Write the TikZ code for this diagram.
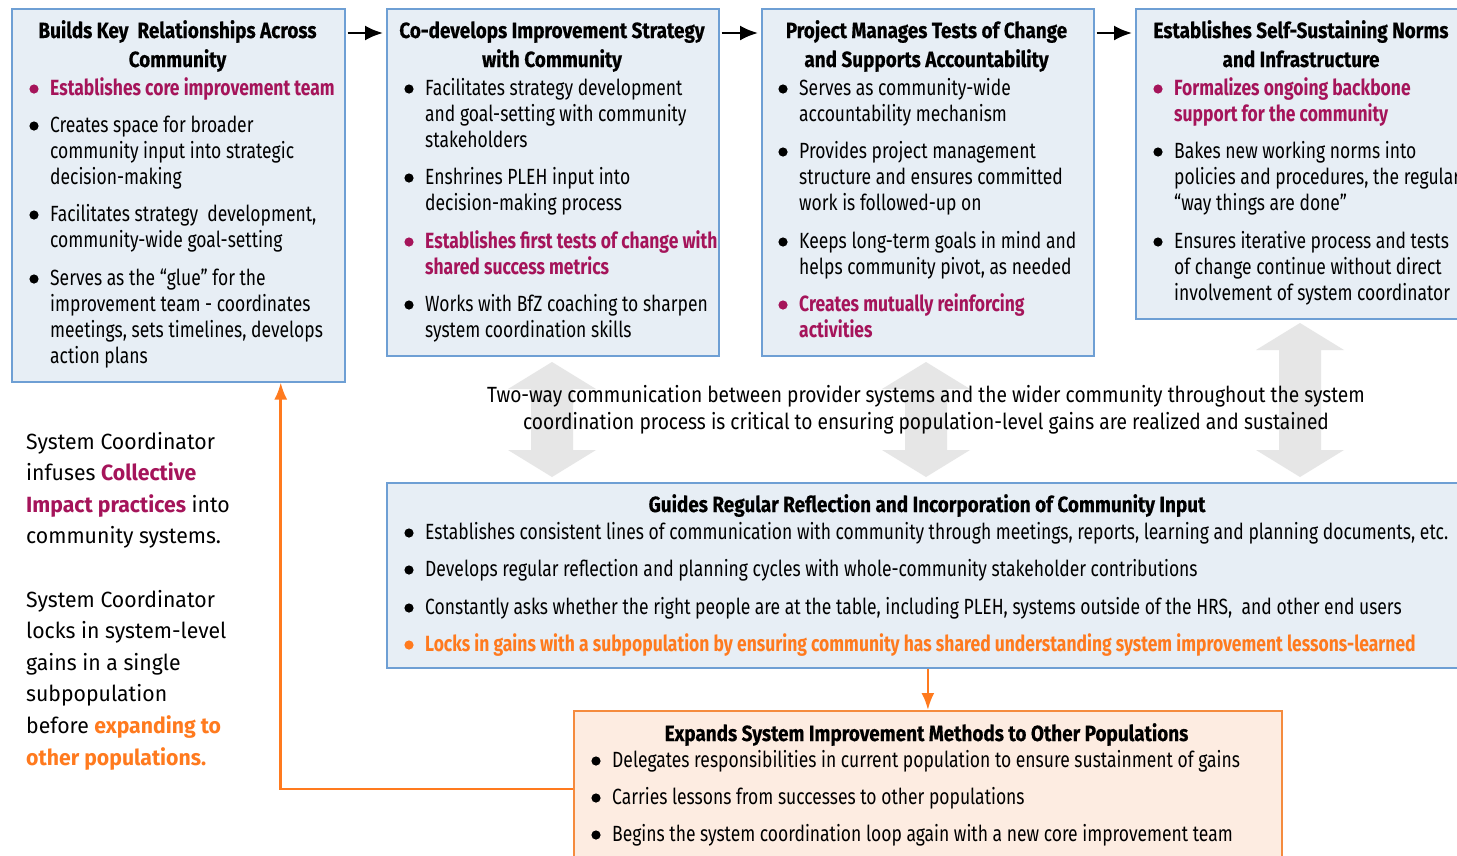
\documentclass[tikz,border=0pt]{standalone}
\usepackage{fontspec}
\setmainfont{Fira Sans}[FakeStretch=0.795]
\newfontfamily\widefont{Fira Sans}[FakeStretch=0.965]
\newfontfamily\midfont{Fira Sans}[FakeStretch=0.872]
\newfontfamily\headfont{Fira Sans}[FakeStretch=0.86, FakeBold=0.4]
\usetikzlibrary{arrows.meta}

\definecolor{panelfill}{HTML}{E7EEF5}
\definecolor{panelline}{HTML}{6E9FD4}
\definecolor{peachfill}{HTML}{FDECE1}
\definecolor{peachline}{HTML}{F58B3E}
\definecolor{berry}{HTML}{A5145A}
\definecolor{accent}{HTML}{FF7A1E}
\definecolor{arrowgray}{HTML}{E6E6E6}

% stacked lines, baseline at the first line
\newcommand\lns[1]{\begin{tabular}[t]{@{}l@{}}#1\end{tabular}}
\newcommand\clns[1]{\begin{tabular}[t]{@{}c@{}}#1\end{tabular}}

\tikzset{
  panel/.style={draw=panelline, fill=panelfill, line width=1.5pt, anchor=north west, inner sep=0pt},
  peach/.style={draw=peachline, fill=peachfill, line width=1.8pt, anchor=north west, inner sep=0pt},
  body/.style={inner sep=0pt, anchor=base west, font=\fontsize{22}{26.3}\selectfont},
  hd/.style={inner sep=0pt, anchor=base, font=\headfont\fontsize{22}{29}\selectfont\bfseries},
  side/.style={inner sep=0pt, anchor=base west, font=\widefont\fontsize{22}{31.6}\selectfont},
  flow/.style={-{Latex[length=18pt,width=15pt]}, line width=2.4pt, shorten <=2pt, shorten >=3pt},
  loopline/.style={draw=accent, line width=2.6pt, -{Latex[length=17pt,width=13pt]}},
}

% bullet item: name, x, baseline y, colour, font switch, lines
\newcommand\bitem[6]{%
  \fill[#4] (#2-16,#3-6) circle (4.6);
  \node[body, text=#4] (#1) at (#2,#3) {#5\lns{#6}};}

% vertical two-headed block arrow: centre x, top y, bottom y
\newcommand\twoway[3]{%
  \fill[arrowgray] (#1,#2) -- (#1+44,#2+27) -- (#1+21,#2+27) -- (#1+21,#3-27)
    -- (#1+44,#3-27) -- (#1,#3) -- (#1-44,#3-27) -- (#1-21,#3-27)
    -- (#1-21,#2+27) -- (#1-44,#2+27) -- cycle;}

\begin{document}
\begin{tikzpicture}[x=1pt,y=-1pt]
\useasboundingbox (0,0) rectangle (1457,855);
\fill[white] (0,0) rectangle (1457,855);
\clip (0,0) rectangle (1457,855);

% block arrows behind the central statement
\twoway{552}{362}{477}
\twoway{926}{362}{477}
\twoway{1300}{323}{477}

% top row of stages
\node[panel, minimum width=333, minimum height=373] (p1) at (11,8) {};
\node[panel, minimum width=332, minimum height=347] (p2) at (386,8) {};
\node[panel, minimum width=332, minimum height=347] (p3) at (761,8) {};
\node[panel, minimum width=345, minimum height=310] (p4) at (1135,8) {};

% reflection panel and expansion panel
\node[panel, minimum width=1100, minimum height=185] (p5) at (386,482) {};
\node[peach, minimum width=708, minimum height=170] (p6) at (573,710) {};

% stage headings
\node[hd] (h1) at (177.5,38) {\clns{Builds Key\ \ Relationships Across\\Community}};
\node[hd] (h2) at (552,38) {\clns{Co-develops Improvement Strategy\\with Community}};
\node[hd] (h3) at (926.5,38) {\clns{Project Manages Tests of Change\\and Supports Accountability}};
\node[hd] (h4) at (1301,38) {\clns{Establishes Self-Sustaining Norms\\and Infrastructure}};
\node[hd] (h5) at (927,512) {Guides Regular Reflection and Incorporation of Community Input};
\node[hd] (h6) at (926.5,741) {Expands System Improvement Methods to Other Populations};

% stage 1
\bitem{a1}{50}{95}{berry}{\bfseries}{Establishes core improvement team}
\bitem{a2}{50}{132}{black}{}{Creates space for broader\\community input into strategic\\decision-making}
\bitem{a3}{50}{221}{black}{}{Facilitates strategy\ \ development,\\community-wide goal-setting}
\bitem{a4}{50}{285}{black}{}{Serves as the “glue” for the\\improvement team - coordinates\\meetings, sets timelines, develops\\action plans}

% stage 2
\bitem{b1}{425}{95}{black}{}{Facilitates strategy development\\and goal-setting with community\\stakeholders}
\bitem{b2}{425}{184}{black}{}{Enshrines PLEH input into\\decision-making process}
\bitem{b3}{425}{248}{berry}{\bfseries}{Establishes first tests of change with\\shared success metrics}
\bitem{b4}{425}{311}{black}{}{Works with BfZ coaching to sharpen\\system coordination skills}

% stage 3
\bitem{c1}{799}{95}{black}{}{Serves as community-wide\\accountability mechanism}
\bitem{c2}{799}{158}{black}{}{Provides project management\\structure and ensures committed\\work is followed-up on}
\bitem{c3}{799}{248}{black}{}{Keeps long-term goals in mind and\\helps community pivot, as needed}
\bitem{c4}{799}{311}{berry}{\bfseries}{Creates mutually reinforcing\\activities}

% stage 4
\bitem{d1}{1174}{95}{berry}{\bfseries}{Formalizes ongoing backbone\\support for the community}
\bitem{d2}{1174}{158}{black}{}{Bakes new working norms into\\policies and procedures, the regular\\“way things are done”}
\bitem{d3}{1174}{248}{black}{}{Ensures iterative process and tests\\of change continue without direct\\involvement of system coordinator}

% reflection panel
\bitem{e1}{425}{539}{black}{}{Establishes consistent lines of communication with community through meetings, reports, learning and planning documents, etc.}
\bitem{e2}{425}{576}{black}{}{Develops regular reflection and planning cycles with whole-community stakeholder contributions}
\bitem{e3}{425}{614}{black}{}{Constantly asks whether the right people are at the table, including PLEH, systems outside of the HRS,\ \ and other end users}
\bitem{e4}{425}{651}{accent}{\bfseries}{Locks in gains with a subpopulation by ensuring community has shared understanding system improvement lessons-learned}

% expansion panel
\bitem{f1}{612}{767}{black}{}{Delegates responsibilities in current population to ensure sustainment of gains}
\bitem{f2}{612}{804}{black}{}{Carries lessons from successes to other populations}
\bitem{f3}{612}{841}{black}{}{Begins the system coordination loop again with a new core improvement team}

% central statement
\node[inner sep=0pt, anchor=base, font=\midfont\fontsize{22}{27}\selectfont] (mid) at (926,402)
  {\clns{Two-way communication between provider systems and the wider community throughout the system\\coordination process is critical to ensuring population-level gains are realized and sustained}};

% side notes
\node[side] (s1) at (26,449) {\lns{System Coordinator\\infuses {\bfseries\color{berry}Collective}\\{\bfseries\color{berry}Impact practices} into\\community systems.}};
\node[side] (s2) at (26,607) {\lns{System Coordinator\\locks in system-level\\gains in a single\\subpopulation\\before {\bfseries\color{accent}expanding to}\\{\bfseries\color{accent}other populations.}}};

% stage sequence
\draw[flow] ([yshift=-25pt]p1.north east) -- ([yshift=-25pt]p2.north west);
\draw[flow] ([yshift=-25pt]p2.north east) -- ([yshift=-25pt]p3.north west);
\draw[flow] ([yshift=-25pt]p3.north east) -- ([yshift=-25pt]p4.north west);

% reflection feeds expansion, expansion restarts the loop
\draw[loopline] (p5.south -| p6.north) -- (p6.north);
\draw[loopline] ([yshift=7pt]p6.west) -| ([xshift=102.5pt]p1.south);
\end{tikzpicture}
\end{document}
